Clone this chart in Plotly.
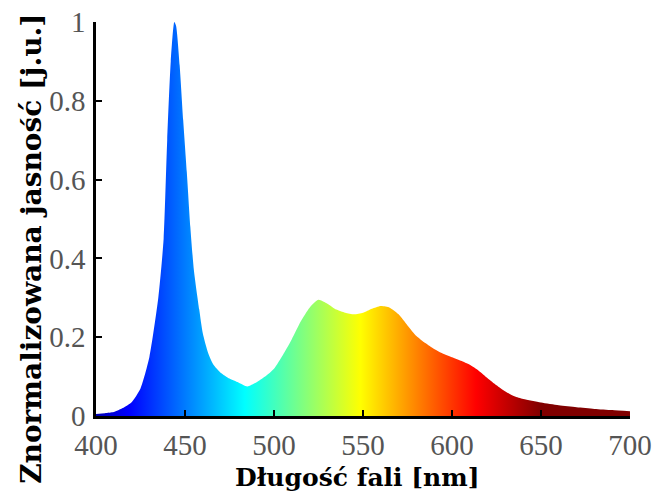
import plotly.graph_objects as go

wavelength = [400, 405, 410, 415, 420, 425, 430, 435, 438, 440, 442, 444, 445, 447, 449,
              451, 453, 455, 458, 460, 463, 466, 470, 475, 480, 485, 490, 495, 500, 505,
              510, 515, 520, 525, 530, 535, 540, 545, 550, 555, 560, 565, 570, 575, 580,
              585, 590, 595, 600, 605, 610, 615, 620, 625, 630, 635, 640, 650, 660, 670,
              680, 690, 700]
brightness = [0.005, 0.007, 0.010, 0.020, 0.035, 0.070, 0.150, 0.300, 0.450, 0.700, 0.900, 1.000, 0.990, 0.890, 0.750,
              0.620, 0.480, 0.370, 0.270, 0.210, 0.160, 0.130, 0.110, 0.095, 0.085, 0.075, 0.085, 0.100, 0.120, 0.155,
              0.195, 0.240, 0.275, 0.295, 0.285, 0.270, 0.262, 0.258, 0.262, 0.272, 0.279, 0.275, 0.258, 0.230, 0.203,
              0.185, 0.170, 0.158, 0.149, 0.140, 0.130, 0.115, 0.096, 0.078, 0.062, 0.050, 0.043, 0.034, 0.027, 0.022,
              0.018, 0.015, 0.012]

x_ticks = [400, 450, 500, 550, 600, 650, 700]
y_ticks = [0, 0.2, 0.4, 0.6, 0.8, 1]
y_tick_text = ["0", "0.2", "0.4", "0.6", "0.8", "1"]

x_title = "Długość fali [nm]"
y_title = "Znormalizowana jasność [j.u.]"

jet = [[0.0, "rgb(0,0,140)"], [0.11, "rgb(0,0,255)"], [0.36, "rgb(0,255,255)"],
       [0.61, "rgb(255,255,0)"], [0.86, "rgb(255,0,0)"], [1.0, "rgb(128,0,0)"]]

fig = go.Figure()
fig.add_trace(go.Scatter(
    x=wavelength, y=brightness, mode="lines", line=dict(width=0, shape="spline", smoothing=0.6),
    fill="tozeroy",
    fillgradient=dict(type="horizontal", colorscale=jet, start=390, stop=650),
    hoverinfo="skip", showlegend=False,
))

serif = "Liberation Serif, Times New Roman, serif"
title_font = "DejaVu Serif, serif"
axis_common = dict(ticks="inside", ticklen=6, tickwidth=2, tickcolor="black", showline=True,
                   linecolor="black", linewidth=2.5, showgrid=False, zeroline=False,
                   automargin=False, tickfont=dict(family=serif, size=29, color="#555"))
fig.update_layout(
    width=653, height=492,
    margin=dict(l=96, r=23, t=22, b=76),
    paper_bgcolor="white", plot_bgcolor="white",
    xaxis=dict(range=[400, 700], tickvals=x_ticks, ticklabelstandoff=1, **axis_common),
    yaxis=dict(range=[0, 1], tickvals=y_ticks, ticktext=y_tick_text, ticklabelstandoff=2, **axis_common),
    annotations=[
        dict(text="<b>" + x_title + "</b>", xref="paper", yref="paper", x=0.489, y=-0.157,
             xanchor="center", yanchor="middle", showarrow=False,
             font=dict(family=title_font, size=25, color="black")),
        dict(text="<b>" + y_title + "</b>", xref="paper", yref="paper", x=-0.12, y=0.424,
             xanchor="center", yanchor="middle", textangle=-90, showarrow=False,
             font=dict(family=title_font, size=28, color="black")),
    ],
)

fig.write_html("out.html", config={"displayModeBar": False},
               post_script="document.body.style.margin='0px';")
